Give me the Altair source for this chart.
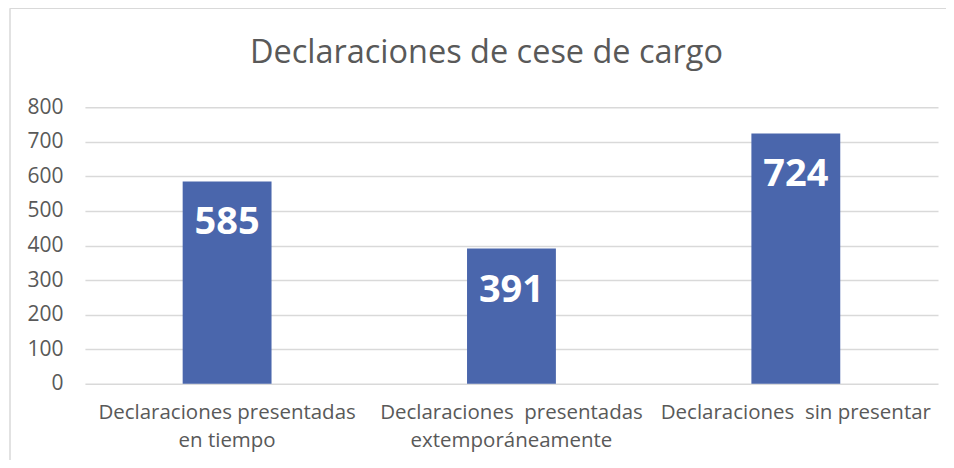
import altair as alt
import pandas as pd

categories = [
    "Declaraciones presentadas|en tiempo",
    "Declaraciones\u00a0 presentadas|extemporáneamente",
    "Declaraciones\u00a0 sin presentar",
]
values = [585, 391, 724]
y_ticks = [0, 100, 200, 300, 400, 500, 600, 700, 800]
title_text = "Declaraciones de cese de cargo"

df = pd.DataFrame({"categoria": categories, "valor": values})

W, H = 854, 277
FONT = "Open Sans"
GRAY = "#595959"

x_enc = alt.X(
    "categoria:N",
    sort=categories,
    title=None,
    scale=alt.Scale(paddingInner=0.6875, paddingOuter=0.34375),
    axis=alt.Axis(
        labelExpr="split(datum.label, '|')",
        labelAngle=0,
        labelFont=FONT,
        labelFontSize=20.5,
        labelColor=GRAY,
        labelLineHeight=28,
        labelPadding=19,
        labelLimit=400,
        ticks=False,
        domain=False,
        grid=False,
    ),
)
y_enc = alt.Y(
    "valor:Q",
    title=None,
    scale=alt.Scale(domain=[0, 800], nice=False),
    axis=alt.Axis(
        values=y_ticks,
        labelFont=FONT,
        labelFontSize=21,
        labelColor=GRAY,
        labelPadding=22,
        labelOverlap=False,
        ticks=False,
        domain=False,
        gridColor="#d9d9d9",
        gridWidth=1.5,
    ),
)

frame_df = pd.DataFrame({"a": [0]})
top_line = alt.Chart(frame_df).mark_rule(
    stroke="#d9d9d9", strokeWidth=1.5, clip=False
).encode(
    x=alt.value(-75),
    x2=alt.value(W + 100),
    y=alt.value(-99),
)
left_line = alt.Chart(frame_df).mark_rule(
    stroke="#d9d9d9", strokeWidth=1.5, clip=False
).encode(
    x=alt.value(-75),
    y=alt.value(-99),
    y2=alt.value(H + 100),
)

title = alt.Chart(pd.DataFrame({"t": [title_text]})).mark_text(
    font=FONT,
    fontSize=32.5,
    color=GRAY,
    align="center",
    baseline="alphabetic",
).encode(
    text="t:N",
    x=alt.value(402),
    y=alt.value(-44),
)

bars = alt.Chart(df).mark_bar(color="#4a66ac").encode(x=x_enc, y=y_enc)

labels = alt.Chart(df).mark_text(
    color="white",
    font=FONT,
    fontSize=38,
    fontWeight="bold",
    baseline="alphabetic",
    align="center",
    dy=53,
).encode(
    x=x_enc,
    y=y_enc,
    text=alt.Text("valor:Q"),
)

chart = (
    alt.layer(top_line, left_line, title, bars, labels)
    .properties(
        width=W,
        height=H,
        background="white",
        autosize=alt.AutoSizeParams(type="none"),
        padding={"left": 77, "top": 99, "right": 8, "bottom": 76},
    )
    .configure_view(strokeWidth=0, stroke="transparent")
)

chart.save("out.html", embed_options={"renderer": "svg", "actions": False})
